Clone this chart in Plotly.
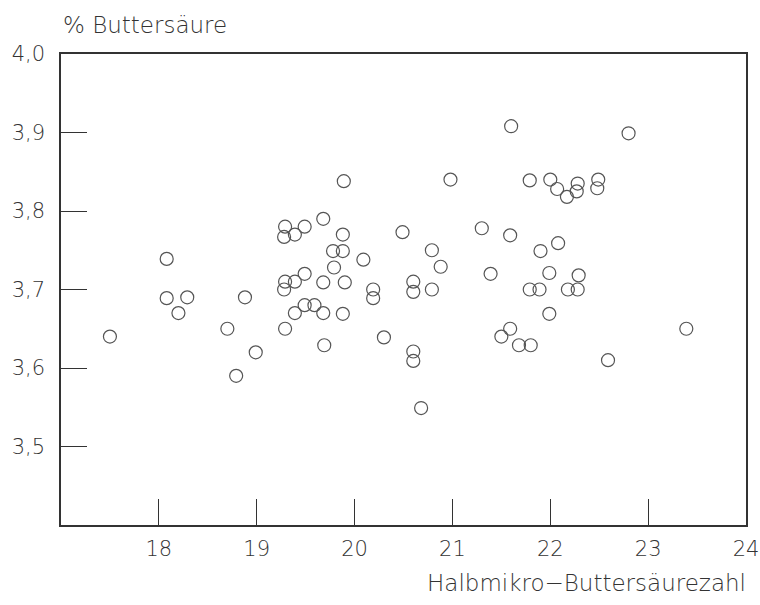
import plotly.graph_objects as go

# Halbmikro-Buttersäurezahl (x) vs % Buttersäure (y)
x_vals = [17.50, 18.08, 18.08, 18.20, 18.29, 18.70, 18.79, 18.88, 18.99,
          19.29, 19.28, 19.39, 19.49, 19.29, 19.28, 19.39, 19.49, 19.39, 19.49,
          19.59, 19.29, 19.68, 19.68, 19.68, 19.69, 19.79, 19.78, 19.88, 19.88,
          19.89, 19.90, 19.88, 20.09, 20.19, 20.19, 20.30, 20.49, 20.60, 20.60,
          20.60, 20.60, 20.68, 20.79, 20.79, 20.88, 20.98, 21.30, 21.39, 21.50,
          21.59, 21.59, 21.60, 21.68, 21.79, 21.79, 21.80, 21.89, 21.90, 21.99,
          21.99, 22.00, 22.07, 22.08, 22.17, 22.18, 22.28, 22.27, 22.28, 22.29,
          22.48, 22.49, 22.59, 22.80, 23.39]
y_vals = [3.640, 3.739, 3.689, 3.670, 3.690, 3.650, 3.590, 3.690, 3.620,
          3.780, 3.767, 3.770, 3.780, 3.710, 3.700, 3.710, 3.720, 3.670, 3.680,
          3.680, 3.650, 3.790, 3.709, 3.670, 3.629, 3.728, 3.749, 3.749, 3.770,
          3.838, 3.709, 3.669, 3.738, 3.700, 3.689, 3.639, 3.773, 3.710, 3.697,
          3.621, 3.609, 3.549, 3.750, 3.700, 3.729, 3.840, 3.778, 3.720, 3.640,
          3.650, 3.769, 3.908, 3.629, 3.839, 3.700, 3.629, 3.700, 3.749, 3.721,
          3.669, 3.840, 3.828, 3.759, 3.818, 3.700, 3.835, 3.825, 3.700, 3.718,
          3.829, 3.840, 3.610, 3.899, 3.650]

x_ticks = [18, 19, 20, 21, 22, 23, 24]
x_tick_labels = ["18", "19", "20", "21", "22", "23", "24"]
y_ticks = [3.5, 3.6, 3.7, 3.8, 3.9, 4.0]
y_tick_labels = ["3,5", "3,6", "3,7", "3,8", "3,9", "4,0"]

FONT = "DejaVu Sans, Open Sans, sans-serif"
INK = "#333333"
FS = 21      # tick labels
FT = 23      # axis titles

fig = go.Figure()
fig.add_trace(go.Scatter(
    x=x_vals, y=y_vals, mode="markers",
    marker=dict(symbol="circle-open", size=13, color="#555555",
                line=dict(width=1.2, color="#555555")),
    hoverinfo="x+y", showlegend=False,
))

fig.update_layout(
    width=760, height=605,
    margin=dict(l=61, r=14, t=54, b=80),
    paper_bgcolor="white", plot_bgcolor="white",
    font=dict(family=FONT, size=FS, color=INK, weight=200),
    xaxis=dict(range=[17, 24], tickvals=x_ticks, ticktext=x_tick_labels,
               ticks="inside", ticklen=26, tickwidth=1.3, tickcolor=INK,
               showline=True, mirror=True, linecolor=INK, linewidth=1.5,
               showgrid=False, zeroline=False, ticklabelstandoff=4,
               automargin=False, ticklabeloverflow="allow",
               tickfont=dict(family=FONT, size=FS, color=INK, weight=200)),
    yaxis=dict(range=[3.4, 4.0], tickvals=y_ticks, ticktext=y_tick_labels,
               ticks="inside", ticklen=26, tickwidth=1.3, tickcolor=INK,
               showline=True, mirror=True, linecolor=INK, linewidth=1.5,
               showgrid=False, zeroline=False, ticklabelstandoff=10,
               automargin=False, ticklabeloverflow="allow",
               tickfont=dict(family=FONT, size=FS, color=INK, weight=200)),
    annotations=[
        dict(text="% Buttersäure", xref="paper", yref="paper", x=0, y=1.0616,
             xanchor="left", yanchor="middle", showarrow=False,
             font=dict(family=FONT, size=FT, color=INK, weight=200)),
        dict(text="Halbmikro\u2212Buttersäurezahl", xref="paper", yref="paper",
             x=1.003, y=-0.123, xanchor="right", yanchor="middle", showarrow=False,
             font=dict(family=FONT, size=FT, color=INK, weight=200)),
    ],
)

fig.write_html("out.html",
               config={"displayModeBar": False},
               post_script="document.body.style.margin='0';document.body.style.overflow='hidden';")
